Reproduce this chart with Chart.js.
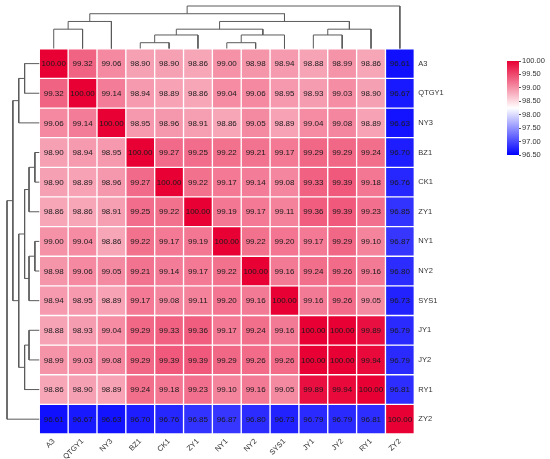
<!DOCTYPE html>
<html>
<head>
<meta charset="utf-8">
<script src="https://cdn.jsdelivr.net/npm/chart.js@4.4.1/dist/chart.umd.min.js"></script>
<style>
  body { margin: 0; background: #fff; }
  #wrap { position: relative; width: 550px; height: 459px; }
  #wrap canvas { position: absolute; }
</style>
</head>
<body>
<div id="wrap">
  <canvas id="heat" width="550" height="459" style="left:0;top:0"></canvas>
  <canvas id="topTree" width="550" height="50" style="left:0;top:0"></canvas>
  <canvas id="leftTree" width="40" height="459" style="left:0;top:0"></canvas>
  <canvas id="scaleBar" width="50" height="115" style="left:500px;top:50px"></canvas>
</div>
<script>
// sample names, same order on both axes
const categories = ["A3", "QTGY1", "NY3", "BZ1", "CK1", "ZY1", "NY1", "NY2", "SYS1", "JY1", "JY2", "RY1", "ZY2"];

// identity values, one row per sample
const rowA3    = [100.00, 99.32, 99.06, 98.90, 98.90, 98.86, 99.00, 98.98, 98.94, 98.88, 98.99, 98.86, 96.61];
const rowQTGY1 = [99.32, 100.00, 99.14, 98.94, 98.89, 98.86, 99.04, 99.06, 98.95, 98.93, 99.03, 98.90, 96.67];
const rowNY3   = [99.06, 99.14, 100.00, 98.95, 98.96, 98.91, 98.86, 99.05, 98.89, 99.04, 99.08, 98.89, 96.63];
const rowBZ1   = [98.90, 98.94, 98.95, 100.00, 99.27, 99.25, 99.22, 99.21, 99.17, 99.29, 99.29, 99.24, 96.70];
const rowCK1   = [98.90, 98.89, 98.96, 99.27, 100.00, 99.22, 99.17, 99.14, 99.08, 99.33, 99.39, 99.18, 96.76];
const rowZY1   = [98.86, 98.86, 98.91, 99.25, 99.22, 100.00, 99.19, 99.17, 99.11, 99.36, 99.39, 99.23, 96.85];
const rowNY1   = [99.00, 99.04, 98.86, 99.22, 99.17, 99.19, 100.00, 99.22, 99.20, 99.17, 99.29, 99.10, 96.87];
const rowNY2   = [98.98, 99.06, 99.05, 99.21, 99.14, 99.17, 99.22, 100.00, 99.16, 99.24, 99.26, 99.16, 96.80];
const rowSYS1  = [98.94, 98.95, 98.89, 99.17, 99.08, 99.11, 99.20, 99.16, 100.00, 99.16, 99.26, 99.05, 96.73];
const rowJY1   = [98.88, 98.93, 99.04, 99.29, 99.33, 99.36, 99.17, 99.24, 99.16, 100.00, 100.00, 99.89, 96.79];
const rowJY2   = [98.99, 99.03, 99.08, 99.29, 99.39, 99.39, 99.29, 99.26, 99.26, 100.00, 100.00, 99.94, 96.79];
const rowRY1   = [98.86, 98.90, 98.89, 99.24, 99.18, 99.23, 99.10, 99.16, 99.05, 99.89, 99.94, 100.00, 96.81];
const rowZY2   = [96.61, 96.67, 96.63, 96.70, 96.76, 96.85, 96.87, 96.80, 96.73, 96.79, 96.79, 96.81, 100.00];

// colour scale range and legend ticks
const scaleMin = 96.5;
const scaleMax = 100;
const scaleTicks = [96.5, 97.0, 97.5, 98.0, 98.5, 99.0, 99.5, 100.0];

// clustering: merge linkA with linkB at linkHeight (new node gets next index)
const linkA      = ["BZ1", 13, "NY1", 15, 14, "JY1", 18, 17, "A3", 21, 22, 23];
const linkB      = ["CK1", "ZY1", "NY2", "SYS1", 16, "JY2", "RY1", 19, "QTGY1", "NY3", 20, "ZY2"];
const linkHeight = [0.15, 0.35, 0.15, 0.35, 0.5, 0.35, 0.5, 0.7, 0.5, 0.7, 0.9, 1.1];

const matrix = [rowA3, rowQTGY1, rowNY3, rowBZ1, rowCK1, rowZY1, rowNY1, rowNY2, rowSYS1, rowJY1, rowJY2, rowRY1, rowZY2];

Chart.defaults.animation = false;
Chart.defaults.font.family = "'Liberation Sans', Arial, sans-serif";
Chart.defaults.plugins.legend.display = false;
Chart.defaults.plugins.tooltip.enabled = false;

const blue = [0, 0, 255];
const red = [232, 0, 52];

function heatColor(v) {
  const mid = (scaleMin + scaleMax) / 2;
  let end, t;
  if (v >= mid) { end = red; t = (v - mid) / (scaleMax - mid); }
  else { end = blue; t = (mid - v) / (mid - scaleMin); }
  t = Math.max(0, Math.min(1, t));
  const c = end.map(e => Math.round(255 + (e - 255) * t));
  return `rgb(${c[0]},${c[1]},${c[2]})`;
}

// write the value in each cell
const cellText = {
  id: "cellText",
  afterDatasetsDraw(chart) {
    const ctx = chart.ctx;
    ctx.save();
    ctx.font = "8px 'Liberation Sans', Arial, sans-serif";
    ctx.fillStyle = "#1a1a1a";
    ctx.textAlign = "center";
    ctx.textBaseline = "middle";
    chart.data.datasets.forEach((ds, r) => {
      chart.getDatasetMeta(r).data.forEach((bar, c) => {
        ctx.fillText(matrix[r][c].toFixed(2), bar.x, (bar.y + bar.base) / 2 + 0.5);
      });
    });
    ctx.restore();
  }
};

new Chart(document.getElementById("heat"), {
  type: "bar",
  data: {
    labels: categories,
    datasets: matrix.map((row, r) => ({
      data: row.map(() => [r, r + 1]),
      backgroundColor: row.map(heatColor),
      borderColor: "rgba(255,255,255,0.6)",
      borderWidth: 1,
      borderSkipped: false,
      grouped: false,
      barPercentage: 1,
      categoryPercentage: 1
    }))
  },
  options: {
    responsive: false,
    layout: { padding: { left: 39.3, top: 48.8, right: 85.7, bottom: 0 } },
    scales: {
      x: {
        position: "bottom",
        grid: { display: false, drawTicks: false, tickLength: 0 },
        border: { display: false },
        ticks: { minRotation: 45, maxRotation: 45, padding: 3, color: "#333", font: { size: 7.5 } },
        afterFit(scale) { scale.height = 25; }
      },
      y: { type: "linear", min: 0, max: 13, reverse: true, display: false },
      y2: {
        type: "category",
        labels: categories,
        position: "right",
        offset: true,
        grid: { display: false, drawTicks: false, tickLength: 0 },
        border: { display: false },
        ticks: { padding: 4, color: "#333", font: { size: 7.5 } },
        afterFit(scale) { scale.width = 50; }
      }
    }
  },
  plugins: [cellText]
});

// dendrogram segments built from the link arrays
function treeSegments(vertical) {
  const pos = {}, hgt = {};
  categories.forEach((c, i) => { pos[c] = i + 0.5; hgt[c] = 0; });
  const sets = [];
  linkA.forEach((a, k) => {
    const b = linkB[k], h = linkHeight[k];
    const node = categories.length + k;
    pos[node] = (pos[a] + pos[b]) / 2;
    hgt[node] = h;
    const pts = [[pos[a], hgt[a]], [pos[a], h], [pos[b], h], [pos[b], hgt[b]]];
    sets.push({
      data: pts.map(p => vertical ? { x: p[0], y: p[1] } : { x: p[1], y: p[0] }),
      showLine: true,
      pointRadius: 0,
      borderColor: "#5a5a5a",
      borderWidth: 1,
      tension: 0,
      clip: false
    });
  });
  return sets;
}

new Chart(document.getElementById("topTree"), {
  type: "scatter",
  data: { datasets: treeSegments(true) },
  options: {
    responsive: false,
    layout: { padding: { left: 39.3, right: 135.7, top: 6, bottom: 1.5 } },
    scales: {
      x: { type: "linear", min: 0, max: 13, display: false },
      y: { type: "linear", min: 0, max: 1.1, display: false }
    }
  }
});

new Chart(document.getElementById("leftTree"), {
  type: "scatter",
  data: { datasets: treeSegments(false) },
  options: {
    responsive: false,
    layout: { padding: { left: 7, right: 0.7, top: 48.8, bottom: 25 } },
    scales: {
      x: { type: "linear", min: 0, max: 1.1, reverse: true, display: false },
      y: { type: "linear", min: 0, max: 13, reverse: true, display: false }
    }
  }
});

// colour key
new Chart(document.getElementById("scaleBar"), {
  type: "bar",
  data: {
    labels: [""],
    datasets: [{
      data: [[scaleMin, scaleMax]],
      backgroundColor(context) {
        const area = context.chart.chartArea;
        if (!area) return "#fff";
        const g = context.chart.ctx.createLinearGradient(0, area.bottom, 0, area.top);
        g.addColorStop(0, heatColor(scaleMin));
        g.addColorStop(0.5, heatColor((scaleMin + scaleMax) / 2));
        g.addColorStop(1, heatColor(scaleMax));
        return g;
      },
      barPercentage: 1,
      categoryPercentage: 1
    }]
  },
  options: {
    responsive: false,
    layout: { padding: { left: 7, top: 11, bottom: 10, right: 0 } },
    scales: {
      x: { display: false },
      y: {
        position: "right",
        min: scaleMin,
        max: scaleMax,
        afterBuildTicks(scale) { scale.ticks = scaleTicks.map(v => ({ value: v })); },
        grid: { drawOnChartArea: false, tickLength: 2, color: "#555" },
        border: { display: false },
        ticks: { padding: 1, color: "#333", font: { size: 7.5 }, callback: v => v.toFixed(2) },
        afterFit(scale) { scale.width = 31; }
      }
    }
  }
});
</script>
</body>
</html>
